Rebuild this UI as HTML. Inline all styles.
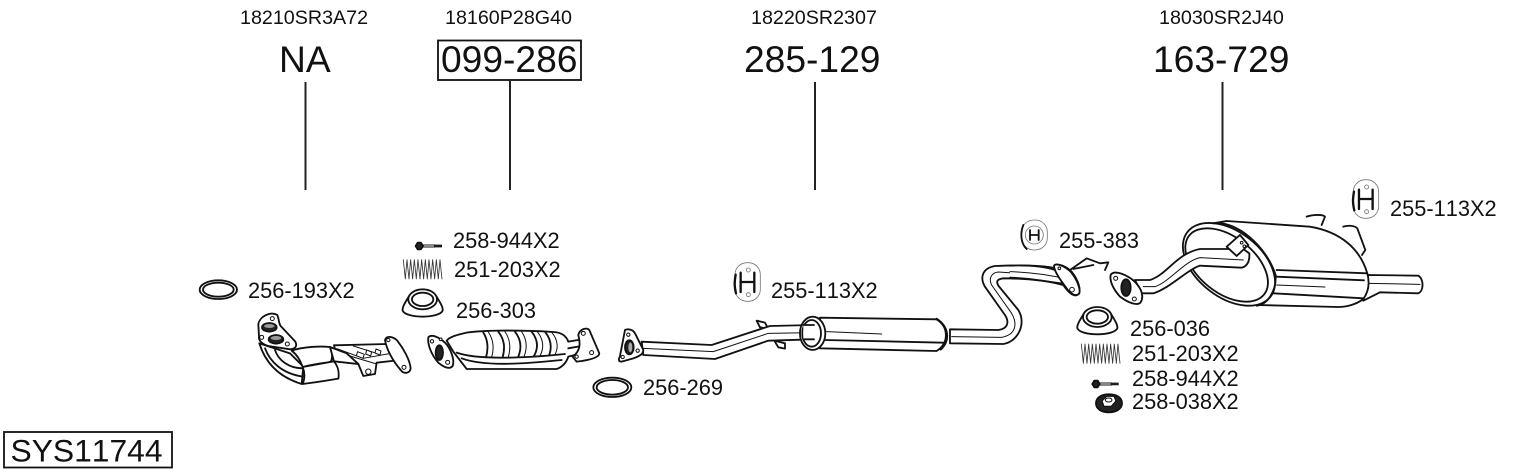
<!DOCTYPE html>
<html><head><meta charset="utf-8"><style>
html,body{margin:0;padding:0;background:#fff}
svg{display:block}
text{font-family:"Liberation Sans",sans-serif;fill:#111;font-kerning:none}
.s{font-size:19.7px}.m{font-size:21.8px}.l{font-size:37.2px}
.p path,.p ellipse,.p circle,.p polygon,.p rect{stroke:#111;stroke-width:5.5;fill:#fff;stroke-linejoin:round;stroke-linecap:round}
.p .n{fill:none}.p .t{stroke-width:3}.p .d{fill:#222}.p .g{stroke:#777;stroke-width:2.5}
</style></head><body>
<svg xmlns="http://www.w3.org/2000/svg" width="1530" height="474" viewBox="0 0 1530 474">
<defs class="p">
<g id="spr"><path class="n" style="stroke-width:2.5;stroke:#333" d="M0 2l6 58 5-58 6 58 5-58 6 58 5-58 6 58 5-58 6 58 5-58 6 58 5-58 6 58 5-58 6 58 5-58 6 58 5-58 6 58 5-58 6 58"/></g>
<g id="bolt"><polygon class="d" points="0,-10 10,-10 16,0 10,10 0,10 -6,0"/><path class="n t" d="M14 -3H52M14 3H52"/><rect class="d" x="50" y="-3" width="22" height="6" style="stroke-width:2"/></g>
<g id="h"><rect class="g" x="0" y="0" width="76" height="116" rx="36"/><path class="n" style="stroke-width:7" d="M2 36C-2 60-2 70 3 92"/><path class="n" style="stroke-width:7" d="M17 30V88M58 30V88M17 58H58"/><circle class="g" cx="40" cy="22" r="6"/><circle class="g" cx="40" cy="96" r="6"/></g>
<g id="cone"><path d="M-40-25C-52-5-62 10-60 20C-50 44 50 44 60 20C62 10 52-5 40-25Z"/><ellipse cx="0" cy="-14" rx="43" ry="30"/><ellipse cx="0" cy="-14" rx="32" ry="20"/></g>
</defs>

<!-- Labels -->
<text class="s" x="240" y="24">18210SR3A72</text>
<text class="s" x="445" y="24">18160P28G40</text>
<text class="s" x="751" y="24">18220SR2307</text>
<text class="s" x="1159" y="24">18030SR2J40</text>
<text class="l" x="279" y="72">NA</text>
<text class="l" x="441" y="72">099-286</text>
<text class="l" x="744" y="72">285-129</text>
<text class="l" x="1153" y="72">163-729</text>
<rect x="438" y="40.500" width="143" height="39.500" fill="none" stroke="#111" stroke-width="1.800"/>
<g stroke="#222" stroke-width="2"><path d="M305.500 82V190M510 80V190M815 82V190M1222.500 82V190"/></g>
<text class="m" x="248" y="298">256-193X2</text>
<text class="m" x="453" y="248">258-944X2</text>
<text class="m" x="454" y="277">251-203X2</text>
<text class="m" x="456" y="318">256-303</text>
<text class="m" x="771" y="298">255-113X2</text>
<text class="m" x="643" y="395">256-269</text>
<text class="m" x="1059" y="248">255-383</text>
<text class="m" x="1390" y="216">255-113X2</text>
<text class="m" x="1130" y="336">256-036</text>
<text class="m" x="1132" y="361">251-203X2</text>
<text class="m" x="1132" y="386">258-944X2</text>
<text class="m" x="1132" y="409">258-038X2</text>
<rect x="4" y="432" width="168" height="35.500" fill="none" stroke="#111" stroke-width="1.800"/>
<text x="10.500" y="461.500" style="font-size:31.800px">SYS11744</text>

<!-- Left group -->
<g class="p" transform="translate(190 220) scale(.3333)">
<ellipse cx="85" cy="209" rx="56" ry="28"/><ellipse cx="85" cy="209" rx="46" ry="21"/>
<use href="#bolt" transform="translate(683 78)"/>
<use href="#spr" transform="translate(640 117)"/>
<use href="#cone" transform="translate(698 252)"/>

<!-- front pipe -->
<path d="M432 376L590 372L632 392L632 420L560 428L555 462L520 468L505 432L445 425Z"/>
<path class="n t" d="M440 386L520 415L632 395M470 405L560 432M490 378L560 400"/>
<path class="t" d="M503 395l20 8-4 12-20-8zM530 390l15 6-3 12-15-6zM558 387l15 6-3 12-15-6z"/>
<circle class="t" cx="535" cy="455" r="8"/>
<path d="M208 370C225 425 262 470 335 492L340 440L300 400Z"/>
<path class="n" d="M225 385C240 425 275 460 338 470M255 390C265 420 295 445 338 445"/>
<path d="M305 392C340 380 390 378 420 381C428 395 428 415 422 426C390 430 360 435 338 441C330 420 322 405 305 392Z"/>
<path d="M338 441C370 435 410 428 432 424C445 440 448 460 445 476C410 482 370 488 338 492C345 475 345 458 338 441Z"/>
<path d="M420 381L470 400L505 432L432 424Z"/>
<path d="M205 312C208 292 240 272 262 285C268 300 266 310 272 318L316 365C322 378 318 386 300 388L235 378C215 372 205 360 207 350Z"/>
<ellipse class="d" cx="238" cy="322" rx="22" ry="13"/><ellipse class="d" cx="258" cy="358" rx="22" ry="13"/>
<ellipse cx="238" cy="318" rx="16" ry="6" style="fill:#999;stroke:none"/><ellipse cx="258" cy="354" rx="16" ry="6" style="fill:#999;stroke:none"/>
<circle class="t" cx="247" cy="296" r="6"/><circle class="t" cx="215" cy="352" r="6"/><circle class="t" cx="292" cy="372" r="6"/>
<path d="M585 360C590 345 610 350 622 362C640 385 660 420 662 445C660 462 640 462 632 450C610 425 590 390 585 360Z"/>
<circle class="t" cx="595" cy="360" r="5"/><circle class="t" cx="642" cy="442" r="6"/>

<!-- catalyst -->
<path d="M790 395L830 447H1100C1120 440 1130 425 1135 410L1195 395V355L1135 365C1128 345 1110 337 1090 336C1000 330 880 330 830 338C800 345 780 350 770 362Z"/>
<path d="M800 398C860 420 1000 415 1125 402M815 415C880 440 1000 432 1115 420" class="n"/>
<path class="n" d="M1135 385L1192 375"/>
<path class="n" d="M880 338C895 360 895 390 888 412M925 335C945 360 945 385 938 412M975 335C995 360 995 385 985 410M1025 335C1045 360 1045 385 1032 408M1065 335C1085 360 1085 385 1078 405"/>
<path class="n t" d="M895 336C912 360 912 390 905 412M945 335C962 360 962 385 955 412M995 335C1012 360 1012 385 1002 410M1042 335C1062 360 1062 385 1050 408M1085 337C1105 360 1105 385 1095 404"/>
<path d="M1165 345C1170 325 1192 322 1198 330L1228 400C1228 412 1200 420 1160 425L1148 410C1175 390 1170 365 1165 345Z"/>
<circle class="t" cx="1180" cy="340" r="6"/><circle class="t" cx="1205" cy="398" r="6"/><circle class="t" cx="1160" cy="410" r="5"/>
<path d="M715 352C725 342 745 350 765 368C782 385 795 420 788 438C778 450 762 442 745 428C725 405 712 375 715 352Z"/>
<ellipse class="d" cx="748" cy="398" rx="11" ry="22"/>
<circle class="t" cx="726" cy="364" r="5"/><circle class="t" cx="773" cy="427" r="6"/><circle class="t" cx="752" cy="358" r="4"/>
</g>

<!-- Centre pipe -->
<g class="p" transform="translate(590 250) scale(.3333)">
<ellipse cx="67" cy="412" rx="57" ry="29"/><ellipse cx="67" cy="412" rx="47" ry="22"/>
<use href="#h" transform="translate(435 38)"/>
<path d="M500 212L525 218L535 236L510 232Z"/><path d="M553 272L585 280L585 296L565 292Z"/>
<path d="M155 275L365 285L540 228L670 225V268L535 272L375 327L160 315Z"/>
<path class="n t" d="M160 295L370 305L535 250L668 248"/>
<path d="M690 203L1040 208C1074 225 1080 280 1040 303L690 295Z"/>
<path class="n t" d="M710 245L875 252"/><path class="n" d="M705 270L1060 278"/>
<path class="n" style="stroke-width:7" d="M1040 207C1075 230 1082 270 1052 298"/>
<ellipse cx="668" cy="250" rx="38" ry="50"/>
<ellipse cx="665" cy="250" rx="28" ry="40"/>
<path d="M640 225H672V268H640Z" style="stroke:none"/>
<path class="n" d="M640 225H672M640 268H672"/>
<path d="M1080 238L1225 240C1255 236 1258 215 1245 195L1185 110C1170 85 1175 55 1215 48C1290 45 1350 45 1400 55L1440 105C1370 92 1300 85 1240 85C1220 88 1218 95 1226 108L1285 180C1310 220 1285 275 1240 282L1080 280Z" />
<path class="n t" d="M1085 260L1235 262C1275 255 1285 225 1265 190L1205 105C1195 85 1205 68 1225 66L1400 78"/>
<path d="M1395 48C1405 38 1430 50 1445 65C1465 90 1475 120 1465 133C1450 145 1430 120 1420 105C1410 85 1395 65 1395 48Z"/>
<circle class="t" cx="1445" cy="118" r="7"/><circle class="t" cx="1410" cy="52" r="4"/>
<path d="M105 240C115 235 130 240 135 250L160 300C160 312 150 318 130 325L95 335C85 335 85 328 90 318Z"/>
<ellipse class="d" cx="118" cy="292" rx="13" ry="21"/><ellipse cx="121" cy="292" rx="6" ry="15" style="fill:#aaa;stroke:none"/>
<circle class="t" cx="115" cy="254" r="5"/><circle class="t" cx="98" cy="321" r="5"/><circle class="t" cx="143" cy="302" r="5"/>
</g>

<!-- Rear group -->
<g class="p" transform="translate(1010 175) scale(.3333)">
<use href="#h" transform="translate(1030 14)"/>
<rect class="g" x="35" y="135" width="77" height="90" rx="36"/>
<path class="n" d="M40 150C30 175 32 205 50 222"/>
<circle class="t g" cx="73" cy="180" r="27"/>
<path class="n" d="M60 165V195M86 165V195M60 180H86"/>
<path class="n" d="M180 285L230 250L270 265L295 262L285 285M190 282L250 270"/>
<use href="#cone" transform="translate(262 440)"/>
<use href="#spr" transform="translate(214 505)"/>
<use href="#bolt" transform="translate(253 627)"/>
<path class="d" d="M258 685C258 668 275 658 296 658C320 658 336 668 336 685C336 702 318 712 296 712C275 712 258 702 258 685Z"/>
<polygon points="276,678 290,664 312,664 318,678 304,694 282,694" style="stroke-width:3.500"/>
<ellipse class="t" cx="296" cy="675" rx="10" ry="6"/>

<path d="M1075 300L1225 302C1242 312 1242 348 1225 355L1110 352L1060 377Z"/>
<path class="n t" d="M1078 325L1230 328"/>
<path d="M610 145L650 138L900 155C990 170 1050 220 1072 295C1080 325 1076 350 1060 372C1040 388 1010 396 985 396L740 390L620 300Z"/>
<path class="n" d="M800 285L1072 295M800 305L1062 316M790 355L1060 370"/>
<path class="n t" d="M800 330L945 336"/>
<path class="n" d="M890 125C910 118 940 118 945 125L935 150M1000 155C1015 150 1035 152 1042 160L1066 225L1056 240"/>
<ellipse cx="657" cy="268" rx="158" ry="98" transform="rotate(38 657 268)"/>
<ellipse cx="650" cy="270" rx="143" ry="84" transform="rotate(38 650 270)"/>
<path d="M610 145C680 135 770 215 797 300C800 350 770 390 740 392" class="n"/>
<path d="M375 315L420 315C470 300 500 235 570 222L655 222L700 222L718 235C720 260 710 275 695 278L570 272C530 285 480 340 430 355L395 355Z"/>
<path class="n t" d="M400 335L435 335C480 320 520 260 570 248L700 255"/>
<path d="M650 215L690 180L715 210L680 243Z"/><circle class="t" cx="695" cy="203" r="4"/><circle class="t" cx="703" cy="214" r="4"/>
<path d="M302 300C310 285 340 295 365 312C390 332 405 360 392 382C380 395 350 380 330 365C312 345 298 320 302 300Z"/>
<ellipse class="d" cx="348" cy="338" rx="14" ry="25"/>
<circle class="t" cx="317" cy="310" r="6"/><circle class="t" cx="373" cy="372" r="6"/>
<path d="M0 270C50 268 100 275 135 285L185 325C160 322 90 310 0 308Z" style="stroke:none"/>
<path class="n" d="M0 272C55 270 105 275 135 285M0 308C60 310 130 320 175 335"/>
<path class="n t" d="M0 290C55 292 110 298 170 312"/>
<path d="M132 272C140 262 165 275 182 290C200 312 212 340 208 355C198 368 180 355 170 340C155 320 132 290 132 272Z"/>
<circle class="t" cx="186" cy="344" r="7"/><circle class="t" cx="148" cy="280" r="4"/>
</g>
</svg>
</body></html>
